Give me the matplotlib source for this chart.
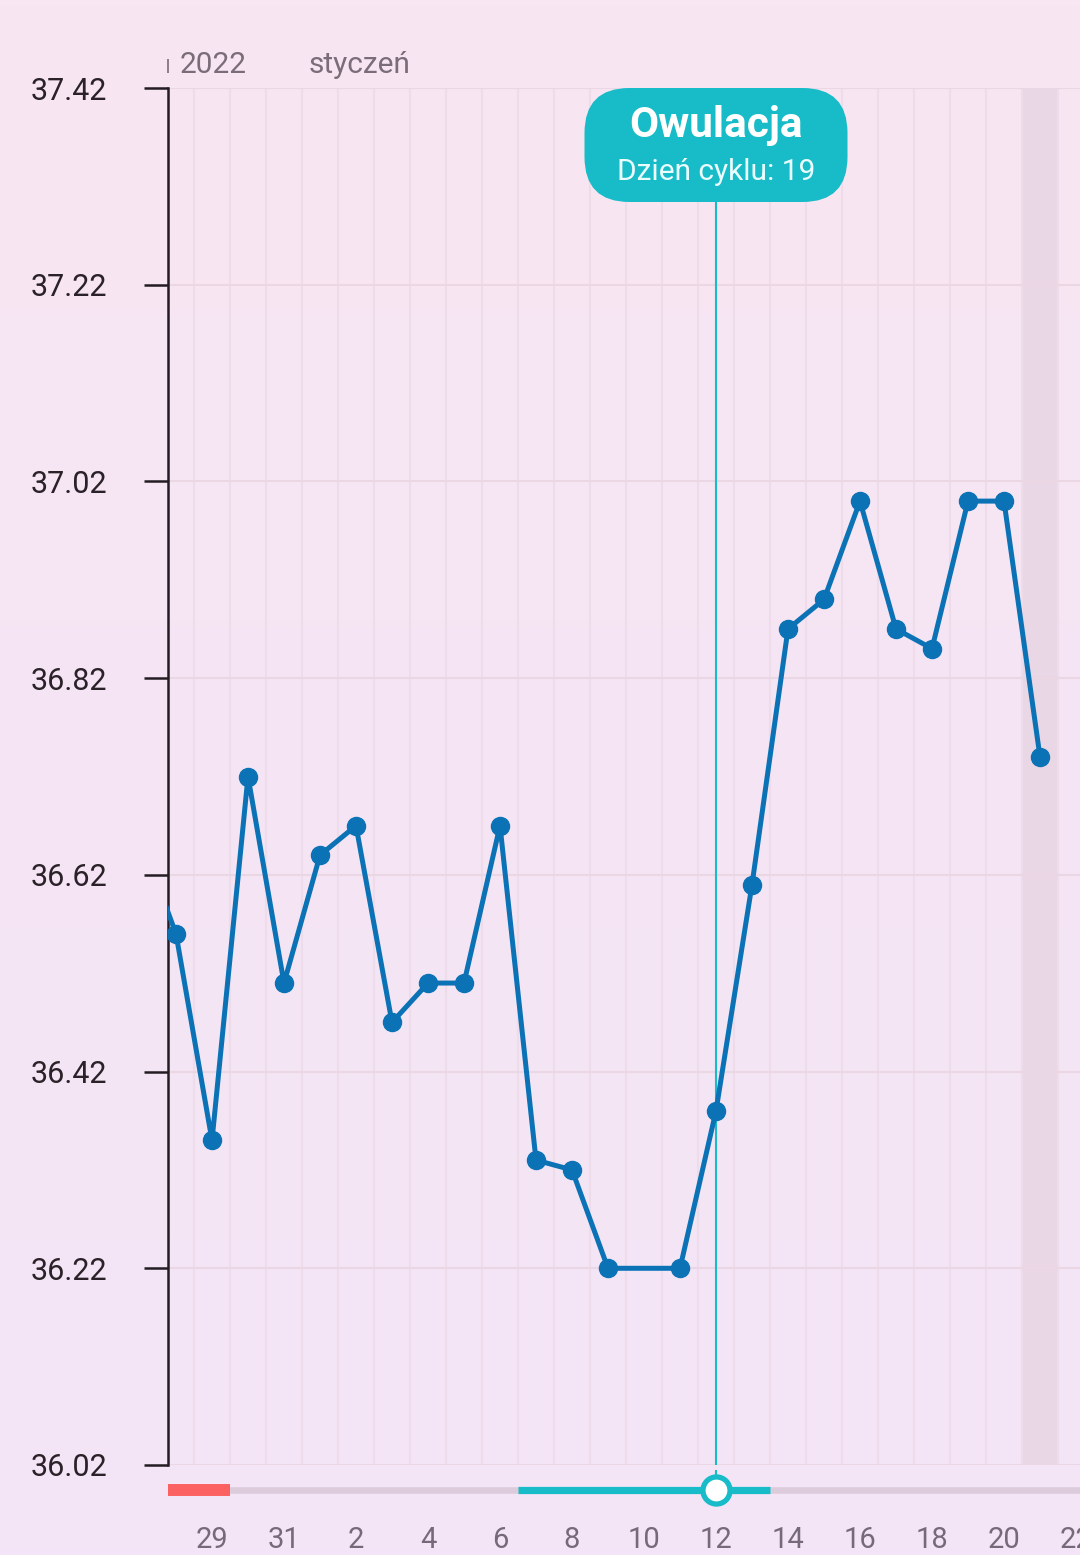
import numpy as np
import matplotlib.pyplot as plt
from matplotlib.patches import FancyBboxPatch

plt.rcParams["font.family"] = ["Roboto", "DejaVu Sans"]

# days shown on the axis: Dec 27 .. Jan 22
day_labels = [27, 28, 29, 30, 31] + list(range(1, 23))
day_idx = np.arange(len(day_labels))

# measured temperatures (Jan 10 missing)
temp_days = [27, 28, 29, 30, 31, 1, 2, 3, 4, 5, 6, 7, 8, 9, 11, 12, 13, 14, 15, 16, 17, 18, 19, 20, 21]
temp_month = [12] * 5 + [1] * 20
temps = [36.66, 36.56, 36.35, 36.72, 36.51, 36.64, 36.67, 36.47, 36.51, 36.51, 36.67,
         36.33, 36.32, 36.22, 36.22, 36.38, 36.61, 36.87, 36.90, 37.00, 36.87, 36.85,
         37.00, 37.00, 36.74]

y_ticks = [36.02, 36.22, 36.42, 36.62, 36.82, 37.02, 37.22, 37.42]
x_tick_days = [29, 31, 2, 4, 6, 8, 10, 12, 14, 16, 18, 20, 22]

ovulation_day = 12
cycle_day = 19
today_day = 21
# phase bar segments (first, last day, inclusive)
period_phase = (27, 29)      # dec
fertile_phase = (7, 13)      # jan


def idx_of(day, month=1):
    if month == 12:
        return day - 27
    return day + 4


W, H = 1080, 1555
fig = plt.figure(figsize=(W / 100, H / 100), dpi=100)

# background gradient
bg = fig.add_axes([0, 0, 1, 1], zorder=-10)
grad = np.linspace(0, 1, 256)[:, None]
top_c = np.array([248, 230, 242]) / 255
bot_c = np.array([243, 229, 247]) / 255
img = top_c[None, None, :] * (1 - grad[:, :, None]) + bot_c[None, None, :] * grad[:, :, None]
bg.imshow(img, aspect="auto", extent=[0, 1, 0, 1])
bg.axis("off")

ax = fig.add_axes([168 / W, 1 - 1465 / H, (W - 168) / W, (1465 - 88) / H])
ax.set_facecolor("none")

tx = [idx_of(d, m) for d, m in zip(temp_days, temp_month)]
line_c = "#0b72b6"
ax.plot(tx, temps, color=line_c, lw=3.6, marker="o", ms=13, zorder=5, solid_joinstyle="round")

left_px = 168
xlim = (1 - (176 - left_px) / 36, 1 + (W - 176) / 36)
ax.set_xlim(*xlim)
ax.set_ylim(36.02, 37.42)

ax.axvspan(idx_of(today_day) - 0.5, idx_of(today_day) + 0.5, color="#e9d7e5", zorder=0, lw=0)

ax.set_yticks(y_ticks)
ax.set_yticklabels([f"{v:.2f}" for v in y_ticks])
ax.set_xticks([idx_of(d, 12 if d > 27 else 1) for d in x_tick_days])
ax.set_xticklabels([str(d) for d in x_tick_days])
ax.set_xticks(day_idx + 0.5, minor=True)

ax.grid(axis="y", color="#ebd6e4", lw=1.5, zorder=1)
ax.grid(axis="x", which="minor", color="#efdcea", lw=1.5, zorder=1)
ax.grid(axis="x", which="major", visible=False)

ax.tick_params(axis="y", length=17, width=1.8, color="#231c22", labelsize=22,
               labelcolor="#2a2228", pad=27)
ax.tick_params(axis="x", which="both", length=0, labelsize=21, labelcolor="#76697a", pad=44)
for s in ["top", "right", "bottom"]:
    ax.spines[s].set_visible(False)
ax.spines["left"].set_color("#231c22")
ax.spines["left"].set_linewidth(1.8)

teal = "#17bcc8"
ov_x = idx_of(ovulation_day)
ax.axvline(ov_x, color=teal, lw=1.5, zorder=4)

# phase strip below the plot
strip = fig.add_axes([168 / W, 1 - 1510 / H, (W - 168) / W, 40 / H], sharex=ax)
strip.set_autoscale_on(False)
strip.set_ylim(0, 1)
strip.axis("off")
x0, x1 = xlim
strip.hlines(0.5, x0, x1, color="#dccbda", lw=4.7, capstyle="butt")
strip.hlines(0.5, idx_of(period_phase[0], 12) - 0.5, idx_of(period_phase[1], 12) + 0.5,
             color="#fb6161", lw=8.6, capstyle="butt")
strip.hlines(0.5, idx_of(fertile_phase[0]) - 0.5, idx_of(fertile_phase[1]) + 0.5,
             color=teal, lw=5.2, capstyle="butt")
strip.vlines(ov_x, 0.5, 1, color=teal, lw=1.5)
strip.plot([ov_x], [0.5], marker="o", ms=19.5, mfc="white", mec=teal, mew=3.8,
           clip_on=False, zorder=5)
ax.set_xlim(*xlim)

# overlay in pixel coordinates for the header and the label box
ov = fig.add_axes([0, 0, 1, 1], zorder=10)
ov.set_xlim(0, W)
ov.set_ylim(H, 0)
ov.axis("off")
ov.vlines(168, 59, 73, color="#7b6c79", lw=1.2)
ov.text(180, 65, "2022", fontsize=21.5, color="#7b6c79", va="center", ha="left")
ov.text(309, 65, "styczeń", fontsize=21.5, color="#7b6c79", va="center", ha="left")

cx = ax.transData.transform((ov_x, 36.5))[0]
bw, bh = 263, 114
r = 45
box = FancyBboxPatch((cx - bw / 2 + r, 88 + r), bw - 2 * r, bh - 2 * r,
                     boxstyle=f"round,pad={r},rounding_size={r}", fc=teal, ec="none")
ov.add_patch(box)
ov.text(cx, 125, "Owulacja", fontsize=30.5, fontweight="bold", color="white",
        ha="center", va="center")
ov.text(cx, 172, f"Dzień cyklu: {cycle_day}", fontsize=21.5, color="#eafcfd",
        ha="center", va="center")

fig.savefig("out.png", dpi=100)
